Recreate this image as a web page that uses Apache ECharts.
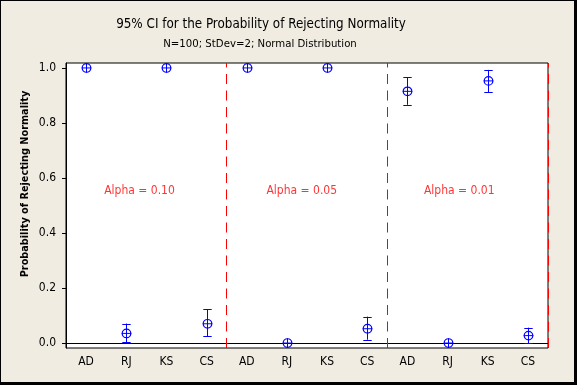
<!DOCTYPE html>
<html>
<head>
<meta charset="utf-8">
<script src="https://cdn.jsdelivr.net/npm/echarts@6/dist/echarts.min.js"></script>
<style>
html,body{margin:0;padding:0;background:#F0ECE2;}
#chart{width:577px;height:385px;}
</style>
</head>
<body>
<div id="chart"></div>
<script>
// ---- data ----
const categories = ['AD','RJ','KS','CS','AD','RJ','KS','CS','AD','RJ','KS','CS'];
const means = [1.0, 0.035, 1.0, 0.07, 1.0, 0.0, 1.0, 0.052, 0.915, 0.0, 0.953, 0.027];
const lower = [1.0, 0.002, 1.0, 0.024, 1.0, 0.0, 1.0, 0.012, 0.866, 0.0, 0.912, 0.0];
const upper = [1.0, 0.071, 1.0, 0.122, 1.0, 0.0, 1.0, 0.096, 0.967, 0.0, 0.993, 0.056];
const yTicks = [0, 0.2, 0.4, 0.6, 0.8, 1.0];
const alphaLabels = ['Alpha = 0.10', 'Alpha = 0.05', 'Alpha = 0.01'];
const alphaX = [1.83, 5.87, 9.79];
const alphaY = 0.552;
const groupBounds = [4, 8, 12];

const FONT = 'DejaVu Sans Condensed, DejaVu Sans, sans-serif';
const BLUE = '#0000FF';
const RED = '#FF0000';

const ciData = means.map((m, i) => [i, m, lower[i], upper[i]]);

const chart = echarts.init(document.getElementById('chart'), null, {renderer: 'canvas'});
chart.setOption({
  backgroundColor: '#F0ECE2',
  animation: false,
  title: [{
    text: '95% CI for the Probability of Rejecting Normality',
    left: 256, top: 13, textAlign: 'center',
    textStyle: {fontFamily: FONT, fontSize: 13.3, fontWeight: 'normal', color: '#000'}
  }, {
    text: 'N=100; StDev=2; Normal Distribution',
    left: 255, top: 34, textAlign: 'center',
    textStyle: {fontFamily: FONT, fontSize: 11.3, fontWeight: 'normal', color: '#000'}
  }],
  graphic: [
    {type: 'text', x: 25, y: 184, rotation: Math.PI / 2,
     style: {text: 'Probability of Rejecting Normality', fill: '#000',
             font: 'bold 10.8px ' + FONT, align: 'center', verticalAlign: 'middle'},
     z: 10},
    {type: 'rect', shape: {x: 0, y: 0, width: 577, height: 1}, style: {fill: '#000'}},
    {type: 'rect', shape: {x: 0, y: 0, width: 1, height: 385}, style: {fill: '#000'}},
    {type: 'rect', shape: {x: 574, y: 0, width: 3, height: 385}, style: {fill: '#000'}},
    {type: 'rect', shape: {x: 0, y: 382, width: 577, height: 3}, style: {fill: '#000'}}
  ],
  grid: {left: 66, top: 63, width: 482, height: 285, show: true, backgroundColor: '#fff',
         borderColor: '#000', borderWidth: 1},
  xAxis: [{
    type: 'category', data: categories, boundaryGap: true,
    axisLine: {lineStyle: {color: '#000', width: 1}},
    axisTick: {alignWithLabel: true, length: 4, lineStyle: {color: '#000'}},
    axisLabel: {color: '#000', fontFamily: FONT, fontSize: 12, margin: 8, interval: 0},
    splitLine: {show: false}
  }, {
    type: 'value', min: 0, max: 12, show: false
  }],
  yAxis: [{
    type: 'value', min: -0.018, max: 1.018,
    axisLine: {show: true, lineStyle: {color: '#000', width: 1}},
    axisTick: {show: true, length: 4, customValues: yTicks, lineStyle: {color: '#000'}},
    axisLabel: {color: '#000', fontFamily: FONT, fontSize: 12, margin: 10,
                customValues: yTicks, formatter: v => v.toFixed(1)},
    splitLine: {show: false}
  }],
  series: [{
    type: 'custom',
    xAxisIndex: 0, yAxisIndex: 0,
    clip: false,
    data: ciData,
    renderItem: function (params, api) {
      const c = api.coord([api.value(0), api.value(1)]);
      const lo = api.coord([api.value(0), api.value(2)]);
      const hi = api.coord([api.value(0), api.value(3)]);
      const x = Math.round(c[0]) + 0.5;
      const y = c[1];
      const r = 4.3, cap = 4.2;
      const st = {stroke: BLUE, lineWidth: 1, fill: null};
      const ch = [];
      if (Math.abs(lo[1] - hi[1]) > 1) {
        ch.push({type: 'line', shape: {x1: x, y1: hi[1], x2: x, y2: lo[1]}, style: st});
        ch.push({type: 'line', shape: {x1: x - cap, y1: Math.round(hi[1]) + 0.5, x2: x + cap, y2: Math.round(hi[1]) + 0.5}, style: st});
        ch.push({type: 'line', shape: {x1: x - cap, y1: Math.round(lo[1]) + 0.5, x2: x + cap, y2: Math.round(lo[1]) + 0.5}, style: st});
      }
      ch.push({type: 'circle', shape: {cx: x, cy: y, r: r}, style: {stroke: BLUE, lineWidth: 1.2, fill: 'none'}});
      ch.push({type: 'line', shape: {x1: x - r - 0.5, y1: y, x2: x + r + 0.5, y2: y}, style: st});
      ch.push({type: 'line', shape: {x1: x, y1: y - r - 0.5, x2: x, y2: y + r + 0.5}, style: st});
      return {type: 'group', children: ch};
    },
    z: 5
  }, {
    type: 'scatter',
    xAxisIndex: 1, yAxisIndex: 0,
    symbolSize: 0,
    data: alphaX.map((x, i) => ({value: [x, alphaY], name: alphaLabels[i]})),
    label: {show: true, position: 'inside', formatter: p => p.name,
            color: RED, fontFamily: FONT, fontSize: 12},
    silent: true,
    markLine: {
      silent: true, symbol: 'none', animation: false,
      label: {show: false},
      lineStyle: {color: RED, width: 1, type: [10, 6.5]},
      data: groupBounds.map(b => ({xAxis: b}))
    },
    z: 4
  }]
});
</script>
</body>
</html>
